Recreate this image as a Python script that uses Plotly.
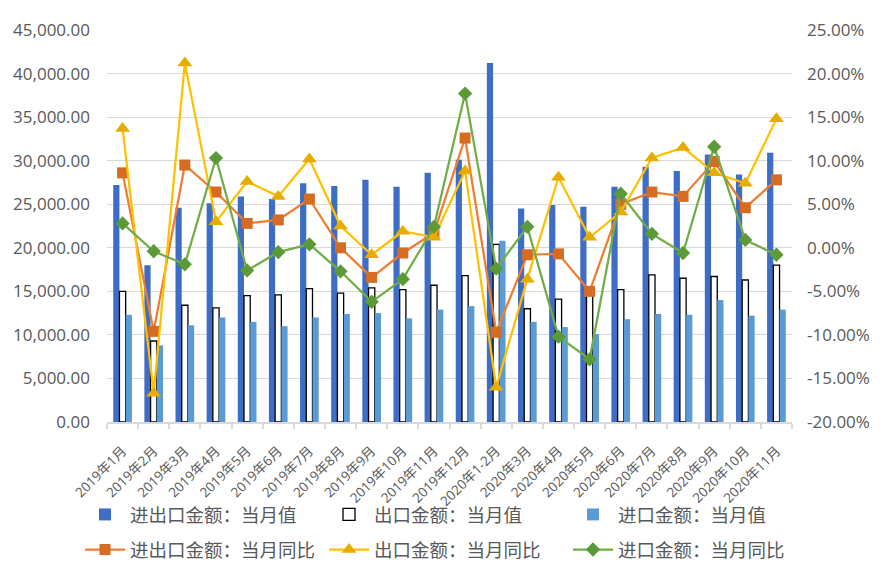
import plotly.graph_objects as go

categories = ["2019年1月", "2019年2月", "2019年3月", "2019年4月", "2019年5月", "2019年6月",
              "2019年7月", "2019年8月", "2019年9月", "2019年10月", "2019年11月", "2019年12月",
              "2020年1-2月", "2020年3月", "2020年4月", "2020年5月", "2020年6月", "2020年7月",
              "2020年8月", "2020年9月", "2020年10月", "2020年11月"]

total_value = [27200, 18000, 24600, 25100, 25900, 25600, 27400, 27100, 27800, 27000, 28600, 30100,
               41200, 24500, 24900, 24700, 27000, 29300, 28800, 30700, 28400, 30900]
export_value = [15000, 9300, 13400, 13100, 14500, 14600, 15300, 14800, 15400, 15200, 15700, 16800,
                20400, 13000, 14100, 14600, 15200, 16900, 16500, 16700, 16300, 18000]
import_value = [12300, 8800, 11100, 12000, 11500, 11000, 12000, 12400, 12500, 11900, 12900, 13300,
                20800, 11500, 10900, 10100, 11800, 12400, 12300, 14000, 12200, 12900]

total_yoy = [8.6, -9.6, 9.5, 6.4, 2.8, 3.2, 5.6, 0.0, -3.4, -0.6, 1.7, 12.6,
             -9.7, -0.8, -0.7, -5.0, 5.0, 6.4, 5.9, 9.9, 4.6, 7.8]
export_yoy = [13.7, -16.7, 21.2, 3.0, 7.6, 5.9, 10.2, 2.5, -0.8, 1.9, 1.2, 8.8,
              -16.0, -3.6, 8.1, 1.2, 4.1, 10.3, 11.5, 8.6, 7.4, 14.8]
import_yoy = [2.8, -0.4, -1.9, 10.3, -2.6, -0.5, 0.4, -2.7, -6.2, -3.6, 2.4, 17.7,
              -2.4, 2.4, -10.2, -12.8, 6.2, 1.6, -0.6, 11.6, 0.9, -0.8]

left_ticks = [0, 5000, 10000, 15000, 20000, 25000, 30000, 35000, 40000, 45000]
right_ticks = [-20, -15, -10, -5, 0, 5, 10, 15, 20, 25]

names = ["进出口金额：当月值", "出口金额：当月值", "进口金额：当月值",
         "进出口金额：当月同比", "出口金额：当月同比", "进口金额：当月同比"]

font_main = "Open Sans, Noto Sans CJK SC, sans-serif"
font_cjk = "Noto Sans CJK SC, sans-serif"
grey_txt = "#595959"

fig = go.Figure()
fig.add_trace(go.Bar(x=categories, y=total_value, name=names[0], legend="legend",
                     marker=dict(color="#3E6DC6", line=dict(width=0))))
fig.add_trace(go.Bar(x=categories, y=export_value, name=names[1], legend="legend",
                     marker=dict(color="#FFFFFF", line=dict(color="#000000", width=1.3))))
fig.add_trace(go.Bar(x=categories, y=import_value, name=names[2], legend="legend",
                     marker=dict(color="#5B9BD5", line=dict(width=0))))

fig.add_trace(go.Scatter(x=categories, y=total_yoy, name=names[3], yaxis="y2", mode="lines+markers",
                         legend="legend2",
                         line=dict(color="#ED7D31", width=2.25),
                         marker=dict(symbol="square", size=11, color="#D66B22")))
fig.add_trace(go.Scatter(x=categories, y=export_yoy, name=names[4], yaxis="y2", mode="lines+markers",
                         legend="legend2",
                         line=dict(color="#FFC000", width=2.25),
                         marker=dict(symbol="triangle-up", size=13, color="#E6AD00")))
fig.add_trace(go.Scatter(x=categories, y=import_yoy, name=names[5], yaxis="y2", mode="lines+markers",
                         legend="legend2",
                         line=dict(color="#70AD47", width=2.25),
                         marker=dict(symbol="diamond", size=11, color="#5B9A36")))

legend_common = dict(
    orientation="h", xanchor="left", yanchor="middle",
    font=dict(family=font_cjk, size=18.5, color=grey_txt),
    entrywidth=189, entrywidthmode="pixels", itemwidth=40,
    traceorder="normal", bgcolor="rgba(0,0,0,0)",
)

fig.update_layout(
    width=875, height=565,
    paper_bgcolor="white", plot_bgcolor="white",
    margin=dict(l=99, r=91, t=22, b=151, autoexpand=False),
    barmode="group", bargap=0.4, bargroupgap=0,
    font=dict(family=font_main, color=grey_txt),
    xaxis=dict(
        type="category", range=[-0.5, len(categories) - 0.5],
        tickangle=-45, tickfont=dict(family=font_main, size=13.5, color=grey_txt),
        showline=True, linecolor="#D9D9D9", linewidth=1.5,
        ticks="outside", tickson="boundaries", ticklen=5, tickcolor="#D9D9D9", tickwidth=1.5,
        showgrid=False, ticklabelstandoff=14,
    ),
    yaxis=dict(
        range=[0, 45000], tickvals=left_ticks, tickformat=",.2f",
        tickfont=dict(family=font_main, size=17, color=grey_txt),
        showgrid=True, gridcolor="#D9D9D9", gridwidth=1.3, zeroline=False, showline=False,
        ticks="", ticklabelstandoff=16,
    ),
    yaxis2=dict(
        range=[-20, 25], tickvals=right_ticks, ticktext=[f"{v:.2f}%" for v in right_ticks],
        overlaying="y", side="right",
        tickfont=dict(family=font_main, size=17, color=grey_txt),
        showgrid=False, zeroline=False, showline=False, ticks="", ticklabelstandoff=14,
    ),
    legend=dict(legend_common, x=-0.0394, y=-0.237),
    legend2=dict(legend_common, x=-0.0394, y=-0.3265),
)

fig.write_html("out.html")
